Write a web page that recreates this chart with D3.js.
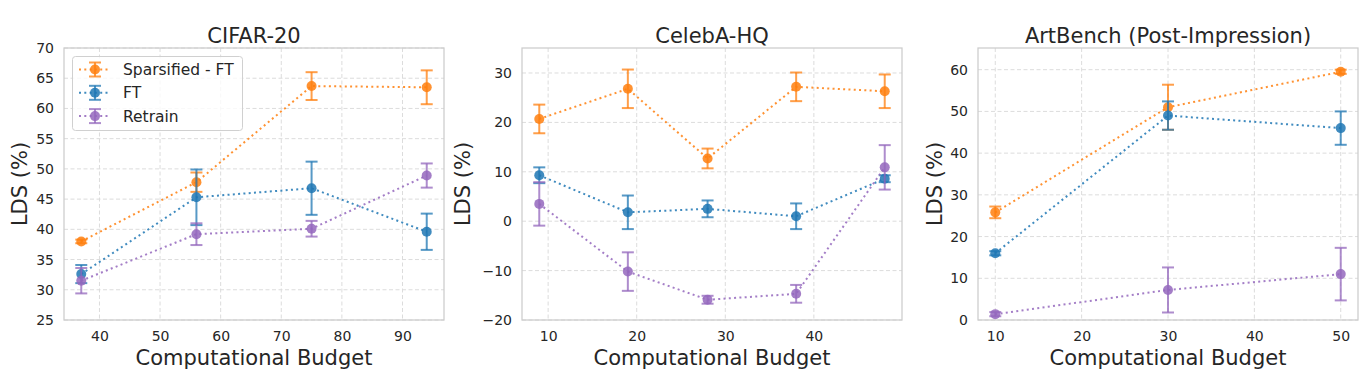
<!DOCTYPE html>
<html><head><meta charset="utf-8">
<script src="https://cdn.jsdelivr.net/npm/d3@7"></script>
<style>
body{margin:0;background:#fff;}
svg{display:block;font-family:"DejaVu Sans",sans-serif;}
</style></head>
<body><svg id="c" width="1370" height="381"></svg>
<script>
const seriesNames = ["Sparsified - FT", "FT", "Retrain"];
const seriesColors = ["#ff7f0e", "#1f77b4", "#9467bd"];

// CIFAR-20
const cifarX = [37, 56, 75, 94];
const cifarSparse = [38.0, 47.8, 63.7, 63.5];
const cifarSparseErr = [0.3, 1.6, 2.3, 2.8];
const cifarFT = [32.6, 45.3, 46.8, 39.6];
const cifarFTErr = [1.5, 4.6, 4.4, 3.0];
const cifarRetrain = [31.5, 39.2, 40.1, 48.9];
const cifarRetrainErr = [2.1, 1.8, 1.3, 2.0];
const cifarYTicks = [25, 30, 35, 40, 45, 50, 55, 60, 65, 70];
const cifarXTicks = [40, 50, 60, 70, 80, 90];

// CelebA-HQ
const celebX = [9, 19, 28, 38, 48];
const celebSparse = [20.7, 26.8, 12.7, 27.2, 26.3];
const celebSparseErr = [2.9, 3.9, 2.0, 2.9, 3.4];
const celebFT = [9.3, 1.8, 2.5, 1.0, 8.6];
const celebFTErr = [1.6, 3.4, 1.7, 2.6, 0.7];
const celebRetrain = [3.5, -10.2, -15.9, -14.7, 10.9];
const celebRetrainErr = [4.4, 3.9, 0.8, 1.8, 4.5];
const celebYTicks = [-20, -10, 0, 10, 20, 30];
const celebXTicks = [10, 20, 30, 40];

// ArtBench (Post-Impression)
const artX = [10, 30, 50];
const artSparse = [25.8, 51.0, 59.5];
const artSparseErr = [1.4, 5.4, 0.5];
const artFT = [16.0, 49.0, 46.0];
const artFTErr = [0.5, 3.4, 4.0];
const artRetrain = [1.4, 7.2, 11.0];
const artRetrainErr = [0.5, 5.4, 6.3];
const artYTicks = [0, 10, 20, 30, 40, 50, 60];
const artXTicks = [10, 20, 30, 40, 50];

const panels = [
  {title:"CIFAR-20", x:cifarX, ys:[cifarSparse,cifarFT,cifarRetrain], es:[cifarSparseErr,cifarFTErr,cifarRetrainErr],
   yDom:[25,70], xTicks:cifarXTicks, yTicks:cifarYTicks, left:64, right:444, ylabX:20, legend:true},
  {title:"CelebA-HQ", x:celebX, ys:[celebSparse,celebFT,celebRetrain], es:[celebSparseErr,celebFTErr,celebRetrainErr],
   yDom:[-20,35.06], xTicks:celebXTicks, yTicks:celebYTicks, left:522, right:902, ylabX:463, legend:false},
  {title:"ArtBench (Post-Impression)", x:artX, ys:[artSparse,artFT,artRetrain], es:[artSparseErr,artFTErr,artRetrainErr],
   yDom:[0,65.2], xTicks:artXTicks, yTicks:artYTicks, left:978, right:1358, ylabX:935, legend:false}
];

const svg = d3.select("#c");
const plotTop = 48, plotBottom = 320;
const fmt = v => (v < 0 ? "\u2212" + Math.abs(v) : String(v));

panels.forEach(p => {
  const xmin = d3.min(p.x), xmax = d3.max(p.x), m = (xmax - xmin) * 0.05;
  const x = d3.scaleLinear().domain([xmin - m, xmax + m]).range([p.left, p.right]);
  const y = d3.scaleLinear().domain(p.yDom).range([plotBottom, plotTop]);
  const g = svg.append("g");

  g.selectAll(".gx").data(p.xTicks).join("line")
    .attr("x1", d => x(d)).attr("x2", d => x(d)).attr("y1", plotTop).attr("y2", plotBottom)
    .attr("stroke", "#dcdcdc").attr("stroke-width", 1).attr("stroke-dasharray", "4,2.5");
  g.selectAll(".gy").data(p.yTicks).join("line")
    .attr("x1", p.left).attr("x2", p.right).attr("y1", d => y(d)).attr("y2", d => y(d))
    .attr("stroke", "#dcdcdc").attr("stroke-width", 1).attr("stroke-dasharray", "4,2.5");

  const xa = g.append("g").attr("transform", `translate(0,${plotBottom})`)
    .call(d3.axisBottom(x).tickValues(p.xTicks).tickSize(0).tickPadding(11.5).tickFormat(fmt));
  const ya = g.append("g").attr("transform", `translate(${p.left},0)`)
    .call(d3.axisLeft(y).tickValues(p.yTicks).tickSize(0).tickPadding(10).tickFormat(fmt));
  [xa, ya].forEach(a => {
    a.select(".domain").remove();
    a.selectAll("text").attr("font-size", 14).attr("fill", "#262626").attr("font-family", "DejaVu Sans");
  });

  g.append("rect").attr("x", p.left).attr("y", plotTop).attr("width", p.right - p.left).attr("height", plotBottom - plotTop)
    .attr("fill", "none").attr("stroke", "#cccccc").attr("stroke-width", 1.25);

  p.ys.forEach((vals, si) => {
    const col = seriesColors[si];
    const errs = p.es[si];
    const sg = g.append("g");
    p.x.forEach((xv, i) => {
      const cx = x(xv), y1 = y(vals[i] - errs[i]), y2 = y(vals[i] + errs[i]);
      sg.append("line").attr("x1", cx).attr("x2", cx).attr("y1", y1).attr("y2", y2)
        .attr("stroke", col).attr("stroke-width", 2).attr("opacity", 0.75);
      [y1, y2].forEach(yy => sg.append("line").attr("x1", cx - 6).attr("x2", cx + 6).attr("y1", yy).attr("y2", yy)
        .attr("stroke", col).attr("stroke-width", 2).attr("opacity", 0.75));
    });
    const line = d3.line().x((d, i) => x(p.x[i])).y(d => y(d));
    sg.append("path").attr("d", line(vals)).attr("fill", "none").attr("stroke", col)
      .attr("stroke-width", 2).attr("stroke-dasharray", "2,3.3").attr("opacity", 0.85);
    sg.selectAll("circle").data(vals).join("circle")
      .attr("cx", (d, i) => x(p.x[i])).attr("cy", d => y(d)).attr("r", 5)
      .attr("fill", col).attr("opacity", 0.85);
  });

  g.append("text").attr("x", (p.left + p.right) / 2).attr("y", 42.7).attr("text-anchor", "middle")
    .attr("font-size", 21).attr("fill", "#262626").text(p.title);
  g.append("text").attr("x", (p.left + p.right) / 2).attr("y", 364.5).attr("text-anchor", "middle")
    .attr("font-size", 21).attr("fill", "#262626").text("Computational Budget");
  g.append("text").attr("transform", `translate(${p.ylabX + 7},${(plotTop + plotBottom) / 2}) rotate(-90)`)
    .attr("text-anchor", "middle").attr("font-size", 21).attr("fill", "#262626").text("LDS (%)");

  if (p.legend) {
    const lg = g.append("g");
    lg.append("rect").attr("x", 72.5).attr("y", 56.5).attr("width", 170).attr("height", 74).attr("rx", 3)
      .attr("fill", "#fff").attr("fill-opacity", 0.8).attr("stroke", "#d0d0d0").attr("stroke-width", 1);
    seriesNames.forEach((n, i) => {
      const ly = 69.5 + i * 23.3, col = seriesColors[i];
      lg.append("line").attr("x1", 79).attr("x2", 109).attr("y1", ly).attr("y2", ly)
        .attr("stroke", col).attr("stroke-width", 2).attr("stroke-dasharray", "2,3.3").attr("opacity", 0.85);
      lg.append("line").attr("x1", 95).attr("x2", 95).attr("y1", ly - 7).attr("y2", ly + 7)
        .attr("stroke", col).attr("stroke-width", 2).attr("opacity", 0.75);
      [ly - 7, ly + 7].forEach(yy => lg.append("line").attr("x1", 89).attr("x2", 101).attr("y1", yy).attr("y2", yy)
        .attr("stroke", col).attr("stroke-width", 2).attr("opacity", 0.75));
      lg.append("circle").attr("cx", 95).attr("cy", ly).attr("r", 5).attr("fill", col).attr("opacity", 0.85);
      lg.append("text").attr("x", 123).attr("y", ly + 5.5).attr("font-size", 15.5).attr("fill", "#262626").text(n);
    });
  }
});
</script></body></html>
